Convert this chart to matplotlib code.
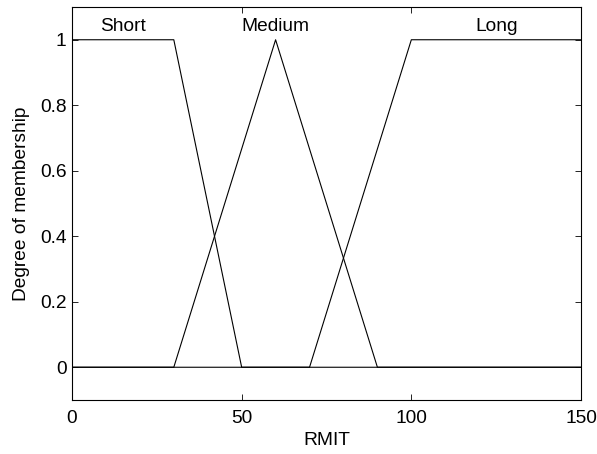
import matplotlib
matplotlib.use("Agg")
import matplotlib.pyplot as plt

plt.rcParams['font.family'] = ['Liberation Sans', 'DejaVu Sans']

# membership function break points (RMIT)
short_x = [0, 30, 50, 150]
short_y = [1, 1, 0, 0]
medium_x = [0, 30, 60, 90, 150]
medium_y = [0, 0, 1, 0, 0]
long_x = [0, 70, 100, 150]
long_y = [0, 0, 1, 1]

names = ["Short", "Medium", "Long"]
label_x = [15, 60, 125]

fs = 13.8

fig = plt.figure(figsize=(5.97, 4.54), dpi=100)
ax = fig.add_axes([72 / 597, 1 - 400 / 454, 509 / 597, 393 / 454])

for xs, ys in [(short_x, short_y), (medium_x, medium_y), (long_x, long_y)]:
    ax.plot(xs, ys, color='black', lw=0.8)

for name, lx in zip(names, label_x):
    ax.text(lx, 1.027, name, ha='center', va='baseline', fontsize=fs)

ax.set_xlim(0, 150)
ax.set_ylim(-0.1, 1.1)
ax.set_xticks([0, 50, 100, 150])
ax.set_yticks([0, 0.2, 0.4, 0.6, 0.8, 1])
ax.set_yticklabels(['0', '0.2', '0.4', '0.6', '0.8', '1'])
ax.tick_params(direction='in', top=True, right=True, labelsize=fs, length=4, width=0.6)
ax.tick_params(axis='x', pad=7)
ax.tick_params(axis='y', pad=4)
for s in ax.spines.values():
    s.set_linewidth(0.8)
ax.set_xlabel("RMIT", fontsize=fs, labelpad=4)
ax.set_ylabel("Degree of membership", fontsize=fs, labelpad=7)

fig.savefig("out.png", dpi=100)
